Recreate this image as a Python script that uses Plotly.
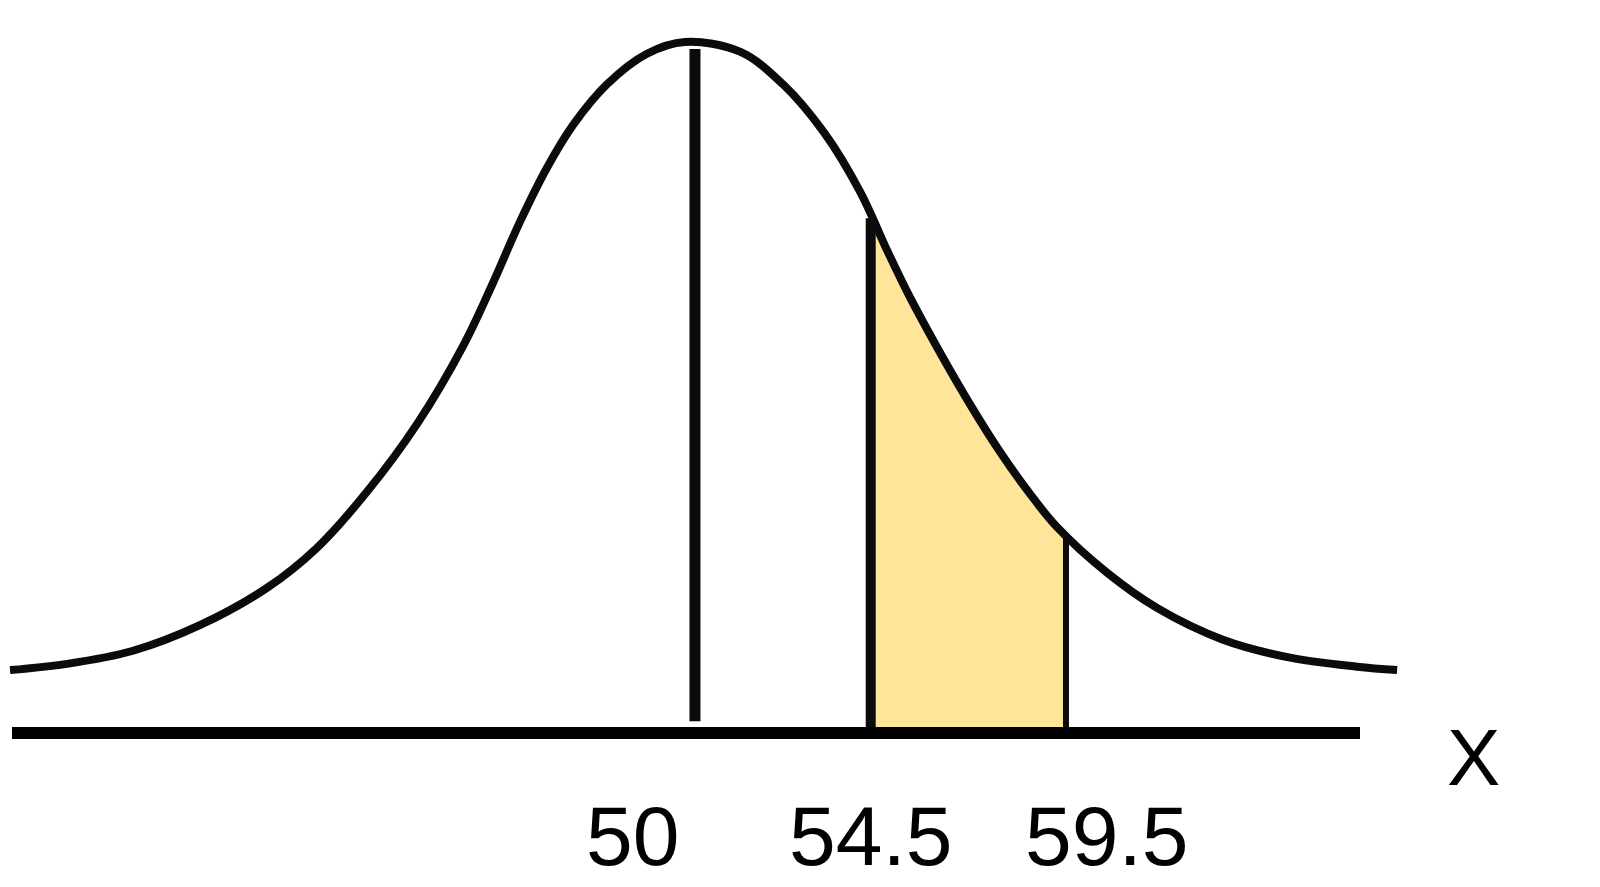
import plotly.graph_objects as go

# ---- data ----
# hand-drawn bell curve (x in X units, y = relative height, baseline = 0)
curve_x = [32.46, 33.92, 35.61, 37.32, 39.04, 40.32, 41.60, 42.88, 44.06, 44.80,
           45.52, 46.21, 46.88, 47.75, 48.77, 49.74, 51.15, 52.25, 53.33, 54.23,
           54.94, 55.51, 56.27, 57.04, 57.81, 58.58, 59.27, 60.55, 61.83, 63.52,
           65.24, 66.95, 67.98]
curve_y = [0.091, 0.100, 0.119, 0.156, 0.210, 0.268, 0.349, 0.447, 0.560, 0.648,
           0.740, 0.818, 0.880, 0.939, 0.983, 1.000, 0.986, 0.939, 0.867, 0.783,
           0.696, 0.630, 0.551, 0.476, 0.407, 0.346, 0.298, 0.232, 0.181, 0.135,
           0.109, 0.096, 0.091]

marker_values = [50, 54.5, 59.5]
marker_labels = ["50", "54.5", "59.5"]
marker_tops = [0.99, 0.745, 0.286]
marker_bottoms = [0.017, 0.0, 0.0]

shade_lo, shade_hi = 54.5, 59.5
axis_label = "X"

# ---- styling ----
INK = "#0b0b0b"
SHADE = "#FEE599"
FONT = "Liberation Sans"
line_widths = [11, 10, 6]
label_shift = [-62, 0, 41]

# the page body has an 8px margin: shift the drawing up/left to compensate
OFF = 8

fig = go.Figure()

# shaded area between 54.5 and 59.5 under the curve
sx = [shade_lo, shade_lo]
sy = [0.0, marker_tops[1]]
for x, y in zip(curve_x, curve_y):
    if shade_lo < x < shade_hi:
        sx.append(x)
        sy.append(y)
sx += [shade_hi, shade_hi]
sy += [marker_tops[2], 0.0]
fig.add_trace(go.Scatter(x=sx, y=sy, mode="lines", fill="toself",
                         fillcolor=SHADE, line=dict(width=0),
                         hoverinfo="skip", showlegend=False))

# vertical marker lines
for v, lo, hi, w in zip(marker_values, marker_bottoms, marker_tops, line_widths):
    fig.add_trace(go.Scatter(x=[v, v], y=[lo, hi], mode="lines",
                             line=dict(color=INK, width=w),
                             hoverinfo="skip", showlegend=False))

# bell curve
fig.add_trace(go.Scatter(x=curve_x, y=curve_y, mode="lines",
                         line=dict(color=INK, width=8, shape="spline", smoothing=1.0),
                         hoverinfo="skip", showlegend=False))

# horizontal axis line
fig.add_shape(type="line", xref="x domain", yref="y",
              x0=(12 - OFF) / 1600, x1=(1360 - OFF) / 1600, y0=0, y1=0,
              line=dict(color="black", width=12), layer="above")

# tick labels
for v, t, s in zip(marker_values, marker_labels, label_shift):
    fig.add_annotation(x=v, y=-0.149, xref="x", yref="y", text=t,
                       showarrow=False, xshift=s, xanchor="center", yanchor="middle",
                       font=dict(family=FONT, size=84, color="black"))

fig.add_annotation(x=(1473 - OFF) / 1600, y=1 - (757 - OFF) / 887,
                   xref="paper", yref="paper",
                   text=axis_label, showarrow=False, xanchor="center", yanchor="middle",
                   font=dict(family=FONT, size=80, color="black"))

px_per_x = 39.05
px_per_y = 691.0
fig.update_layout(
    width=1600, height=887,
    margin=dict(l=0, r=0, t=0, b=0),
    paper_bgcolor="white", plot_bgcolor="white",
    showlegend=False,
    xaxis=dict(range=[32.203 + OFF / px_per_x, 73.175 + OFF / px_per_x],
               visible=False, fixedrange=True),
    yaxis=dict(range=[-0.2229 - OFF / px_per_y, 1.0608 - OFF / px_per_y],
               visible=False, fixedrange=True),
)

fig.write_html("out.html")
